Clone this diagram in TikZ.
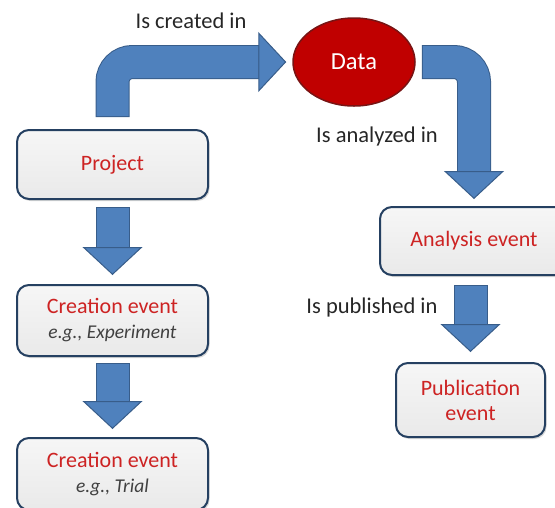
\documentclass[tikz,border=0pt]{standalone}
\usepackage{fontspec}
\setmainfont{Carlito}
\usetikzlibrary{arrows.meta,shapes.geometric,shadows}

\definecolor{arrowblue}{RGB}{79,129,189}
\definecolor{arrowedge}{RGB}{56,93,138}
\definecolor{boxedge}{RGB}{37,64,97}
\definecolor{boxred}{RGB}{205,35,35}
\definecolor{datared}{RGB}{192,0,0}
\definecolor{dataedge}{RGB}{120,20,20}
\definecolor{labelgray}{RGB}{38,38,38}
\definecolor{subgray}{RGB}{64,64,64}

\begin{document}
\begin{tikzpicture}[x=1pt, y=-1pt,
  box/.style={draw=boxedge, line width=2pt, rounded corners=12pt,
    top color=gray!7, bottom color=gray!17, text=boxred, align=center,
    inner sep=0pt, font=\fontsize{22}{25}\selectfont,
    drop shadow={shadow xshift=1.5pt, shadow yshift=-2pt, opacity=0.3}},
  datanode/.style={ellipse, draw=dataedge, line width=1.5pt, fill=datared,
    text=white, inner sep=0pt, minimum width=122pt, minimum height=88pt,
    font=\fontsize{24.5}{28}\selectfont},
  lbl/.style={text=labelgray, anchor=base, font=\fontsize{22.5}{26}\selectfont},
  fatarrow/.style 2 args={draw=arrowblue, line width=32pt,
    -{Triangle[width=60pt, length=28pt, line width=1pt, color=arrowedge, fill=arrowblue]},
    shorten <=#1, shorten >=#2,
    preaction={draw=arrowedge, line width=34pt, arrows=-,
      shorten <=#1-1pt, shorten >=#2+27pt}}]

\useasboundingbox (0,0) rectangle (555,507);

% linke Spalte
\node[box, minimum width=191pt, minimum height=69pt] (project) at (112.5,164.5) {Project};
\node[box, minimum width=191pt, minimum height=71pt] (creation1) at (112.5,320.5)
  {Creation event\\{\color{subgray}\fontsize{19.5}{22}\selectfont\itshape e.g., Experiment}};
\node[box, minimum width=191pt, minimum height=72pt] (creation2) at (112.5,474)
  {Creation event\\{\color{subgray}\fontsize{19.5}{22}\selectfont\itshape e.g., Trial}};

% Daten oben
\node[datanode] (data) at (354,62) {Data};

% rechte Spalte
\node[box, minimum width=188pt, minimum height=68pt] (analysis) at (474,241) {Analysis event};
\node[box, minimum width=149pt, minimum height=74pt] (pub) at (470.5,400) {Publication\\event};

% Beschriftungen
\node[lbl] (created) at (191,28) {Is created in};
\node[lbl] (analyzed) at (377,142) {Is analyzed in};
\node[lbl] (published) at (372,313) {Is published in};

% Blockpfeile
\draw[fatarrow={13pt}{6pt}, rounded corners=20pt] (project.north) |- (data.west);
\draw[fatarrow={7pt}{7pt}, rounded corners=20pt] (data.east) -| (analysis.north);
\draw[fatarrow={8pt}{9pt}] (project) -- (creation1);
\draw[fatarrow={7pt}{8pt}] (creation1) -- (creation2);
\draw[fatarrow={10pt}{10pt}] (analysis.south -| pub.north) -- (pub.north);

\end{tikzpicture}
\end{document}
